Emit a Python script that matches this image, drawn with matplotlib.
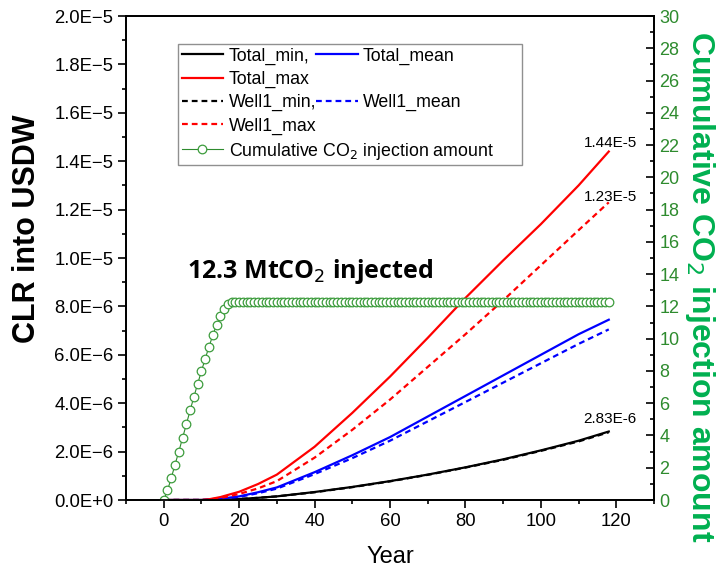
import matplotlib
matplotlib.use("Agg")
import matplotlib.pyplot as plt
from matplotlib.lines import Line2D
from matplotlib.ticker import MultipleLocator

plt.rcParams['font.family'] = ['Liberation Sans', 'DejaVu Sans']

# CLR curves, in units of 1E-6
years = [0, 5, 10, 12, 15, 20, 25, 30, 40, 50, 60, 70, 80, 90, 100, 110, 118]
total_max = [0, 0, 0.0, 0.03, 0.12, 0.34, 0.66, 1.05, 2.2, 3.6, 5.1, 6.7, 8.35, 9.9, 11.4, 13.0, 14.4]
well1_max = [0, 0, 0.0, 0.02, 0.08, 0.25, 0.48, 0.78, 1.75, 2.9, 4.15, 5.5, 6.85, 8.25, 9.7, 11.15, 12.3]
total_mean = [0, 0, 0.0, 0.01, 0.05, 0.15, 0.32, 0.52, 1.15, 1.85, 2.6, 3.45, 4.3, 5.15, 6.0, 6.85, 7.45]
well1_mean = [0, 0, 0.0, 0.01, 0.04, 0.13, 0.28, 0.47, 1.07, 1.73, 2.45, 3.25, 4.05, 4.85, 5.65, 6.45, 7.05]
total_min = [0, 0, 0.0, 0.0, 0.005, 0.04, 0.09, 0.15, 0.33, 0.54, 0.78, 1.05, 1.35, 1.68, 2.05, 2.45, 2.83]
well1_min = [0, 0, 0.0, 0.0, 0.005, 0.04, 0.09, 0.15, 0.32, 0.53, 0.77, 1.04, 1.34, 1.66, 2.03, 2.42, 2.80]
scale = 1e-6

# cumulative CO2 injection (Mt), yearly
co2_years = list(range(0, 119))
co2_ramp = [0, 0.6, 1.36, 2.2, 3.0, 3.85, 4.7, 5.55, 6.4, 7.2, 8.0, 8.75, 9.5,
            10.2, 10.85, 11.4, 11.85, 12.15, 12.28]
co2_amount = co2_ramp + [12.3] * (len(co2_years) - len(co2_ramp))

end_labels = [('1.44E-5', 14.4, 'bottom', 1), ('1.23E-5', 12.3, 'center', 4),
              ('2.83E-6', 2.83, 'bottom', 4)]

ytick_labels = ['0.0E+0', '2.0E\u22126', '4.0E\u22126', '6.0E\u22126', '8.0E\u22126',
                '1.0E\u22125', '1.2E\u22125', '1.4E\u22125', '1.6E\u22125', '1.8E\u22125', '2.0E\u22125']

green_dark = '#2e8b2e'
green_label = '#00b050'
dash = (0, (2.6, 1.8))

fig = plt.figure(figsize=(7.18, 5.70), dpi=100)
ax = fig.add_axes([0.1755, 0.1228, 0.7354, 0.8491])
ax2 = ax.twinx()

def sc(v):
    return [a * scale for a in v]

l1, = ax.plot(years, sc(total_min), color='black', lw=1.6)
l2, = ax.plot(years, sc(total_mean), color='blue', lw=1.6)
l3, = ax.plot(years, sc(total_max), color='red', lw=1.6)
l4, = ax.plot(years, sc(well1_min), color='black', lw=1.6, ls=dash)
l5, = ax.plot(years, sc(well1_mean), color='blue', lw=1.6, ls=dash)
l6, = ax.plot(years, sc(well1_max), color='red', lw=1.6, ls=dash)
l7, = ax2.plot(co2_years, co2_amount, color=green_dark, lw=0.8, marker='o', ms=6.2,
               mfc='white', mec='#3c9c3c', mew=0.9)

for txt, val, va, off in end_labels:
    ax.annotate(txt, (118, val * scale), xytext=(1, off), textcoords='offset points',
                ha='center', va=va, fontsize=11)

ax.text(6.3, 9.45e-6, '12.3 MtCO$_2$ injected', fontsize=18, fontweight='bold',
        family=['Open Sans', 'DejaVu Sans'], ha='left', va='center')

ax.set_xlim(-10, 130)
ax.set_ylim(0, 2e-5)
ax2.set_ylim(0, 30)
ax.xaxis.set_major_locator(MultipleLocator(20))
ax.xaxis.set_minor_locator(MultipleLocator(10))
ax.set_yticks([i * 2e-6 for i in range(len(ytick_labels))])
ax.set_yticklabels(ytick_labels)
ax.yaxis.set_minor_locator(MultipleLocator(1e-6))
ax2.yaxis.set_major_locator(MultipleLocator(2))
ax2.yaxis.set_minor_locator(MultipleLocator(1))

ax.tick_params(axis='both', which='major', direction='out', length=6, width=1.2,
               labelsize=13.3, pad=3)
ax.tick_params(axis='both', which='minor', direction='out', length=3, width=1.2)
ax2.tick_params(axis='y', which='major', direction='in', length=6, width=1.2,
                labelsize=13, labelcolor=green_dark, pad=4)
ax2.tick_params(axis='y', which='minor', direction='in', length=3, width=1.2)
for a in (ax, ax2):
    for s in a.spines.values():
        s.set_linewidth(1.3)

ax.set_xlabel('Year', fontsize=17, labelpad=12)
ax.set_ylabel('CLR into USDW', fontsize=22, fontweight='bold')
ax.yaxis.set_label_coords(-0.16, 0.56)
ax2.set_ylabel('Cumulative CO$_2$ injection amount', fontsize=23, fontweight='bold',
               color=green_label, rotation=270)
ax2.yaxis.set_label_coords(1.12, 0.44)

blank = Line2D([], [], color='none')
leg_kw = dict(loc='upper left', borderaxespad=0, fontsize=12.8, handlelength=2.35,
              handletextpad=0.3, labelspacing=0.34, borderpad=0.2)
leg1 = ax.legend([l1, l3, l4, l6, l7],
                 ['Total_min,', 'Total_max', 'Well1_min,', 'Well1_max',
                  'Cumulative CO$_2$ injection amount      '],
                 bbox_to_anchor=(0.0985, 0.942), fancybox=False, edgecolor='#909090',
                 framealpha=1, **leg_kw)
leg1.get_frame().set_linewidth(1.0)
ax.add_artist(leg1)
ax.legend([l2, blank, l5], ['Total_mean', ' ', 'Well1_mean'],
          bbox_to_anchor=(0.353, 0.942), frameon=False, **leg_kw)

fig.savefig('out.png', dpi=100)
